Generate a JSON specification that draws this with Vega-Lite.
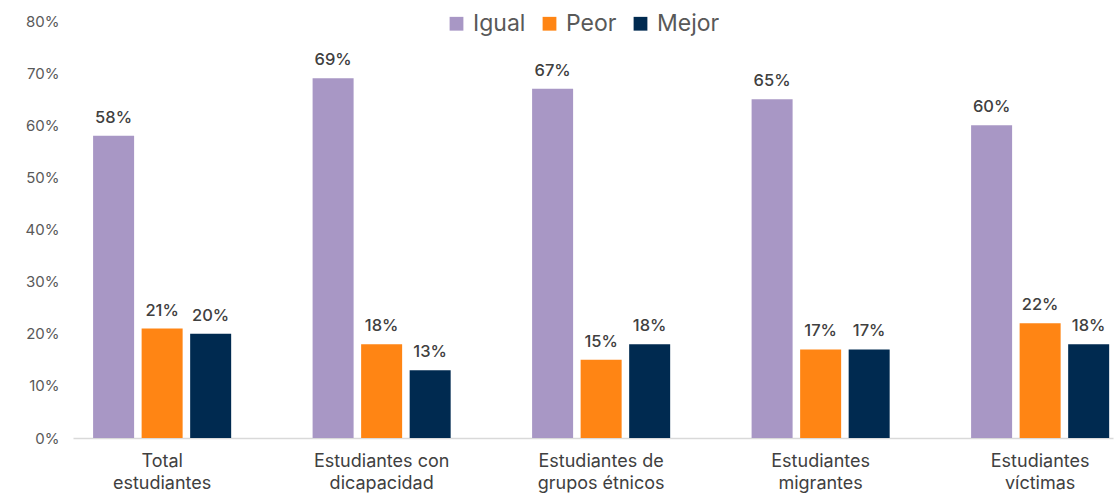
{
  "$schema": "https://vega.github.io/schema/vega-lite/v6.json",
  "width": 1040,
  "height": 417,
  "autosize": {"type": "none"},
  "padding": {"left": 73, "top": 21, "right": 5, "bottom": 59},
  "background": "white",
  "config": {"view": {"stroke": null}, "font": "Inter"},
  "data": {
    "values": [
      {"grupo": "Total|estudiantes", "serie": "Igual", "valor": 0.58},
      {"grupo": "Total|estudiantes", "serie": "Peor", "valor": 0.21},
      {"grupo": "Total|estudiantes", "serie": "Mejor", "valor": 0.20},
      {"grupo": "Estudiantes con|dicapacidad", "serie": "Igual", "valor": 0.69},
      {"grupo": "Estudiantes con|dicapacidad", "serie": "Peor", "valor": 0.18},
      {"grupo": "Estudiantes con|dicapacidad", "serie": "Mejor", "valor": 0.13},
      {"grupo": "Estudiantes de|grupos étnicos", "serie": "Igual", "valor": 0.67},
      {"grupo": "Estudiantes de|grupos étnicos", "serie": "Peor", "valor": 0.15},
      {"grupo": "Estudiantes de|grupos étnicos", "serie": "Mejor", "valor": 0.18},
      {"grupo": "Estudiantes|migrantes", "serie": "Igual", "valor": 0.65},
      {"grupo": "Estudiantes|migrantes", "serie": "Peor", "valor": 0.17},
      {"grupo": "Estudiantes|migrantes", "serie": "Mejor", "valor": 0.17},
      {"grupo": "Estudiantes|víctimas", "serie": "Igual", "valor": 0.60},
      {"grupo": "Estudiantes|víctimas", "serie": "Peor", "valor": 0.22},
      {"grupo": "Estudiantes|víctimas", "serie": "Mejor", "valor": 0.18}
    ]
  },
  "encoding": {
    "x": {
      "field": "grupo", "type": "nominal", "sort": null,
      "scale": {"paddingInner": 0.371, "paddingOuter": 0.0545, "align": 0.84},
      "axis": {
        "title": null, "labelAngle": 0, "ticks": false,
        "domainColor": "#D9D9D9", "domainWidth": 1.5,
        "labelExpr": "split(datum.value, '|')",
        "labelFontSize": 18, "labelColor": "#404040", "labelPadding": 14,
        "labelLineHeight": 22
      }
    },
    "xOffset": {
      "field": "serie", "type": "nominal", "sort": ["Igual", "Peor", "Mejor"],
      "scale": {"paddingInner": 0.155, "paddingOuter": 0}
    },
    "y": {
      "field": "valor", "type": "quantitative",
      "scale": {"domain": [0, 0.8], "nice": false},
      "axis": {
        "title": null, "format": ".0%", "values": [0, 0.1, 0.2, 0.3, 0.4, 0.5, 0.6, 0.7, 0.8],
        "grid": false, "ticks": false, "domain": false,
        "labelFontSize": 15, "labelColor": "#595959", "labelPadding": 14
      }
    }
  },
  "layer": [
    {
      "mark": {"type": "bar"},
      "encoding": {
        "color": {
          "field": "serie", "type": "nominal",
          "sort": ["Igual", "Peor", "Mejor"],
          "scale": {"domain": ["Igual", "Peor", "Mejor"], "range": ["#A897C5", "#FF8514", "#002A50"]},
          "legend": {
            "title": null, "orient": "none", "direction": "horizontal",
            "legendX": 372, "legendY": -9,
            "symbolType": "square", "symbolSize": 190, "symbolStrokeWidth": 0,
            "labelFontSize": 23, "labelColor": "#595959", "columnPadding": 12, "labelOffset": 5
          }
        }
      }
    },
    {
      "mark": {"type": "text", "baseline": "bottom", "dy": -10, "fontSize": 16.5, "fontWeight": 500, "color": "#404040"},
      "encoding": {
        "text": {"field": "valor", "type": "quantitative", "format": ".0%"}
      }
    }
  ]
}
